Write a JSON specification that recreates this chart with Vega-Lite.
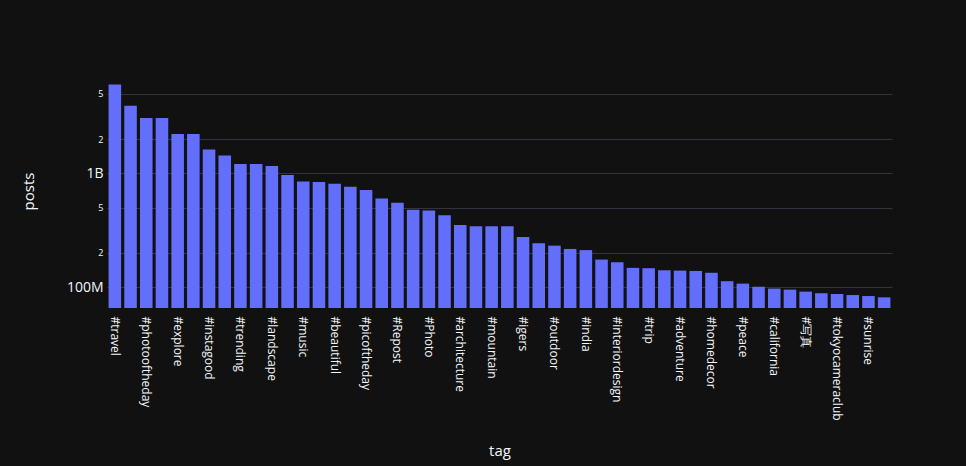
{
  "$schema": "https://vega.github.io/schema/vega-lite/v6.json",
  "autosize": {"type": "none"},
  "width": 785,
  "height": 234,
  "padding": {"left": 107, "top": 74, "right": 74, "bottom": 158},
  "background": "#111111",
  "config": {
    "font": "Open Sans",
    "view": {"stroke": null},
    "axis": {"labelColor": "#f2f5fa", "titleColor": "#f2f5fa", "titleFontWeight": "normal"}
  },
  "data": {
    "values": [
      {"tag": "#travel", "posts": 6040000000},
      {"tag": "#nature", "posts": 3940000000},
      {"tag": "#photooftheday", "posts": 3070000000},
      {"tag": "#photography", "posts": 3070000000},
      {"tag": "#explore", "posts": 2220000000},
      {"tag": "#art", "posts": 2220000000},
      {"tag": "#instagood", "posts": 1620000000},
      {"tag": "#love", "posts": 1440000000},
      {"tag": "#trending", "posts": 1210000000},
      {"tag": "#fashion", "posts": 1210000000},
      {"tag": "#landscape", "posts": 1160000000},
      {"tag": "#beauty", "posts": 968000000},
      {"tag": "#music", "posts": 850000000},
      {"tag": "#happy", "posts": 840000000},
      {"tag": "#beautiful", "posts": 810000000},
      {"tag": "#sunset", "posts": 764000000},
      {"tag": "#picoftheday", "posts": 714000000},
      {"tag": "#summer", "posts": 603000000},
      {"tag": "#Repost", "posts": 552000000},
      {"tag": "#food", "posts": 479000000},
      {"tag": "#Photo", "posts": 472000000},
      {"tag": "#sky", "posts": 430000000},
      {"tag": "#architecture", "posts": 353000000},
      {"tag": "#design", "posts": 344000000},
      {"tag": "#mountain", "posts": 344000000},
      {"tag": "#travelphotography", "posts": 343000000},
      {"tag": "#igers", "posts": 277000000},
      {"tag": "#wanderlust", "posts": 244000000},
      {"tag": "#outdoor", "posts": 232000000},
      {"tag": "#sea", "posts": 217000000},
      {"tag": "#india", "posts": 212000000},
      {"tag": "#interior", "posts": 175000000},
      {"tag": "#interiordesign", "posts": 166000000},
      {"tag": "#vacation", "posts": 148000000},
      {"tag": "#trip", "posts": 147000000},
      {"tag": "#hiking", "posts": 141000000},
      {"tag": "#adventure", "posts": 140000000},
      {"tag": "#home", "posts": 139000000},
      {"tag": "#homedecor", "posts": 134000000},
      {"tag": "#italy", "posts": 113000000},
      {"tag": "#peace", "posts": 107600000},
      {"tag": "#beach", "posts": 101000000},
      {"tag": "#california", "posts": 97300000},
      {"tag": "#japan", "posts": 95300000},
      {"tag": "#写真", "posts": 91500000},
      {"tag": "#streetphotography", "posts": 88600000},
      {"tag": "#tokyocameraclub", "posts": 87200000},
      {"tag": "#clouds", "posts": 85400000},
      {"tag": "#sunrise", "posts": 83700000},
      {"tag": "#landscapephotography", "posts": 81500000}
    ]
  },
  "mark": {"type": "bar", "color": "#636efa"},
  "encoding": {
    "x": {
      "field": "tag",
      "type": "nominal",
      "sort": null,
      "scale": {"paddingInner": 0.2, "paddingOuter": 0.1},
      "axis": {
        "title": "tag",
        "titleFontSize": 15,
        "titleY": 135,
        "titleBaseline": "top",
        "labelAngle": 90,
        "labelFontSize": 12,
        "labelPadding": 8,
        "ticks": false,
        "domain": false,
        "grid": false,
        "values": ["#travel", "#photooftheday", "#explore", "#instagood", "#trending", "#landscape", "#music", "#beautiful", "#picoftheday", "#Repost", "#Photo", "#architecture", "#mountain", "#igers", "#outdoor", "#india", "#interiordesign", "#trip", "#adventure", "#homedecor", "#peace", "#california", "#写真", "#tokyocameraclub", "#sunrise"]
      }
    },
    "y": {
      "field": "posts",
      "type": "quantitative",
      "scale": {"type": "log", "domain": [65700000, 7480000000], "nice": false, "zero": false},
      "axis": {
        "title": "posts",
        "titleFontSize": 15,
        "titleX": -79,
        "titleY": 117,
        "titleAngle": -90,
        "titleBaseline": "middle",
        "titleAlign": "center",
        "values": [100000000, 200000000, 500000000, 1000000000, 2000000000, 5000000000],
        "labelExpr": "datum.value == 100000000 ? '100M' : datum.value == 1000000000 ? '1B' : (datum.value == 200000000 || datum.value == 2000000000) ? '2' : '5'",
        "labelFontSize": {"condition": {"test": "datum.value == 100000000 || datum.value == 1000000000", "value": 14}, "value": 9},
        "labelPadding": 4,
        "ticks": false,
        "domain": false,
        "grid": true,
        "gridColor": "#30353d",
        "gridWidth": 1
      }
    },
    "y2": {"datum": 65700000},
    "tooltip": [{"field": "tag"}, {"field": "posts", "type": "quantitative"}]
  }
}
